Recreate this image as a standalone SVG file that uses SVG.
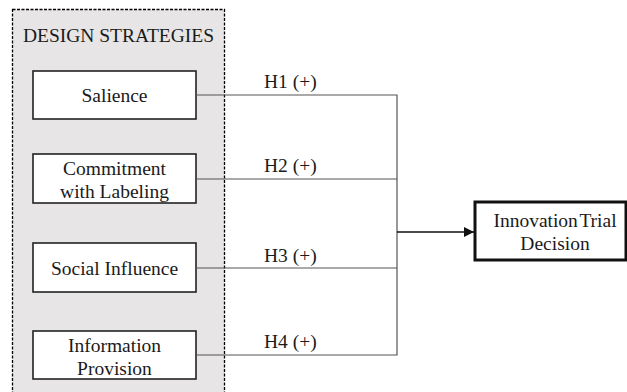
<svg xmlns="http://www.w3.org/2000/svg" width="627" height="392" viewBox="0 0 627 392">
<defs>
<style>
text{font-family:"Liberation Serif","Times New Roman",serif;font-size:19.5px;fill:#1a1a1a;text-anchor:middle}
.box{fill:#fff;stroke:#222;stroke-width:1.6}
.conn{fill:none;stroke:#555;stroke-width:1.2}
.lbl{text-anchor:start}
</style>
<marker id="arr" viewBox="0 0 10 10" refX="10" refY="5" markerWidth="10" markerHeight="10" markerUnits="userSpaceOnUse" orient="auto">
<path d="M0,0 L10,5 L0,10 z" fill="#111"/>
</marker>
</defs>
<g id="design-strategies">
<rect x="12.5" y="9.5" width="212" height="390" fill="#e7e5e5" stroke="#000" stroke-width="1.3" stroke-dasharray="3 1.5"/>
<text x="118.5" y="42">DESIGN STRATEGIES</text>
</g>
<g id="salience">
<rect class="box" x="33" y="71" width="163" height="48"/>
<text x="114.5" y="102">Salience</text>
</g>
<g id="commitment">
<rect class="box" x="33" y="154" width="163" height="49"/>
<text x="114.5" y="175">Commitment</text>
<text x="114.5" y="198">with Labeling</text>
</g>
<g id="social">
<rect class="box" x="33" y="243" width="163" height="49"/>
<text x="114.5" y="275">Social Influence</text>
</g>
<g id="information">
<rect class="box" x="33" y="331" width="163" height="48"/>
<text x="114.5" y="352">Information</text>
<text x="114.5" y="375">Provision</text>
</g>
<g id="innovation">
<rect x="475" y="202" width="151" height="58" fill="#fff" stroke="#111" stroke-width="3"/>
<text x="555" y="227" word-spacing="-3">Innovation Trial</text>
<text x="555" y="250">Decision</text>
</g>
<g id="connectors">
<path class="conn" d="M196,95 H397 V355 H196"/>
<path class="conn" d="M196,179 H397"/>
<path class="conn" d="M196,268 H397"/>
<path d="M397,232 H474" fill="none" stroke="#111" stroke-width="1.4" marker-end="url(#arr)"/>
<text class="lbl" x="264" y="88">H1 (+)</text>
<text class="lbl" x="264" y="172">H2 (+)</text>
<text class="lbl" x="264" y="262">H3 (+)</text>
<text class="lbl" x="264" y="348">H4 (+)</text>
</g>
</svg>
